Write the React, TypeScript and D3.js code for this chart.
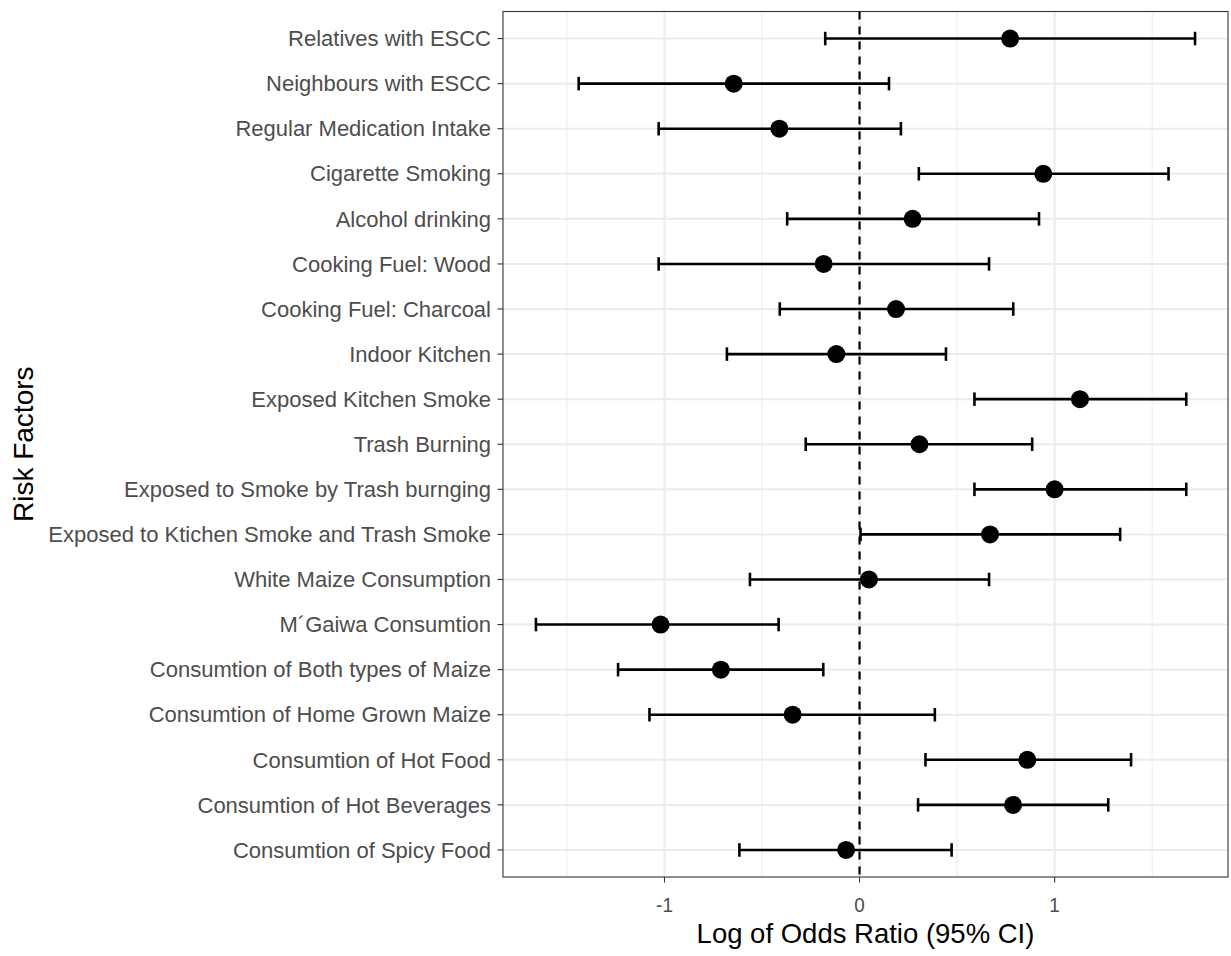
import React from "react";
import * as d3 from "d3";

const factors = [
  "Relatives with ESCC",
  "Neighbours with ESCC",
  "Regular Medication Intake",
  "Cigarette Smoking",
  "Alcohol drinking",
  "Cooking Fuel: Wood",
  "Cooking Fuel: Charcoal",
  "Indoor Kitchen",
  "Exposed Kitchen Smoke",
  "Trash Burning",
  "Exposed to Smoke by Trash burnging",
  "Exposed to Ktichen Smoke and Trash Smoke",
  "White Maize Consumption",
  "M´Gaiwa Consumtion",
  "Consumtion of Both types of Maize",
  "Consumtion of Home Grown Maize",
  "Consumtion of Hot Food",
  "Consumtion of Hot Beverages",
  "Consumtion of Spicy Food",
];

const logOR = [0.772, -0.645, -0.411, 0.942, 0.272, -0.184, 0.187, -0.119, 1.13, 0.307, 1.0, 0.669, 0.048, -1.02, -0.711, -0.343, 0.86, 0.787, -0.069];
const lower = [-0.176, -1.44, -1.03, 0.304, -0.371, -1.03, -0.409, -0.68, 0.589, -0.276, 0.589, 0.005, -0.562, -1.659, -1.238, -1.077, 0.338, 0.3, -0.616];
const upper = [1.72, 0.151, 0.212, 1.584, 0.92, 0.664, 0.788, 0.443, 1.675, 0.885, 1.675, 1.336, 0.664, -0.415, -0.186, 0.386, 1.392, 1.275, 0.472];

const xTicks = [-1, 0, 1];
const xMinor = [-1.5, -0.5, 0.5, 1.5];

const W = 1231;
const H = 956;
const margin = { left: 503, right: 3, top: 11.5, bottom: 79 };
const FONT = "'Liberation Sans', Arial, Helvetica, sans-serif";

export default function App() {
  const innerW = W - margin.left - margin.right;
  const innerH = H - margin.top - margin.bottom;

  const lo = d3.min(lower) as number;
  const hi = d3.max(upper) as number;
  const pad = (hi - lo) * 0.05;
  const x = d3.scaleLinear().domain([lo - pad, hi + pad]).range([0, innerW]);

  const y = d3
    .scalePoint<string>()
    .domain(factors)
    .range([0, innerH])
    .padding(0.6);
  const step = y.step();
  const capHalf = step * 0.15;

  return (
    <svg width={W} height={H} style={{ position: "absolute", left: 0, top: 0, background: "#fff" }}>
      <g transform={`translate(${margin.left},${margin.top})`}>
        {xMinor.map((t) => (
          <line key={"mn" + t} x1={x(t)} x2={x(t)} y1={0} y2={innerH} stroke="#EBEBEB" strokeWidth={1} />
        ))}
        {xTicks.map((t) => (
          <line key={"mj" + t} x1={x(t)} x2={x(t)} y1={0} y2={innerH} stroke="#EBEBEB" strokeWidth={2} />
        ))}
        {factors.map((f) => (
          <line key={"hg" + f} x1={0} x2={innerW} y1={y(f)} y2={y(f)} stroke="#EBEBEB" strokeWidth={2} />
        ))}

        <line x1={x(0)} x2={x(0)} y1={0} y2={innerH} stroke="#000" strokeWidth={2.2} strokeDasharray="8,7" />

        {factors.map((f, i) => {
          const cy = y(f) as number;
          return (
            <g key={"eb" + f}>
              <line x1={x(lower[i])} x2={x(upper[i])} y1={cy} y2={cy} stroke="#000" strokeWidth={2.6} />
              <line x1={x(lower[i])} x2={x(lower[i])} y1={cy - capHalf} y2={cy + capHalf} stroke="#000" strokeWidth={2.6} />
              <line x1={x(upper[i])} x2={x(upper[i])} y1={cy - capHalf} y2={cy + capHalf} stroke="#000" strokeWidth={2.6} />
              <circle cx={x(logOR[i])} cy={cy} r={9} fill="#000" />
            </g>
          );
        })}

        <rect x={0} y={0} width={innerW} height={innerH} fill="none" stroke="#333333" strokeWidth={1.1} />

        {factors.map((f) => (
          <g key={"yt" + f} transform={`translate(0,${y(f)})`}>
            <line x1={-5.5} x2={0} stroke="#333333" strokeWidth={1.1} />
            <text x={-12} dy="0.35em" textAnchor="end" fontFamily={FONT} fontSize={22} fill="#4D4D4D">
              {f}
            </text>
          </g>
        ))}

        {xTicks.map((t) => (
          <g key={"xt" + t} transform={`translate(${x(t)},${innerH})`}>
            <line y1={0} y2={5.5} stroke="#333333" strokeWidth={1.1} />
            <text
              transform="translate(0,34.5) scale(0.9,1)"
              textAnchor="middle"
              fontFamily={FONT}
              fontSize={21}
              fill="#4D4D4D"
            >
              {t}
            </text>
          </g>
        ))}

        <text x={innerW / 2} y={innerH + 66} textAnchor="middle" fontFamily={FONT} fontSize={27.5} fill="#000">
          Log of Odds Ratio (95% CI)
        </text>
      </g>
      <text
        transform={`translate(33,${margin.top + innerH / 2}) rotate(-90)`}
        textAnchor="middle"
        fontFamily={FONT}
        fontSize={28}
        fill="#000"
      >
        Risk Factors
      </text>
    </svg>
  );
}
